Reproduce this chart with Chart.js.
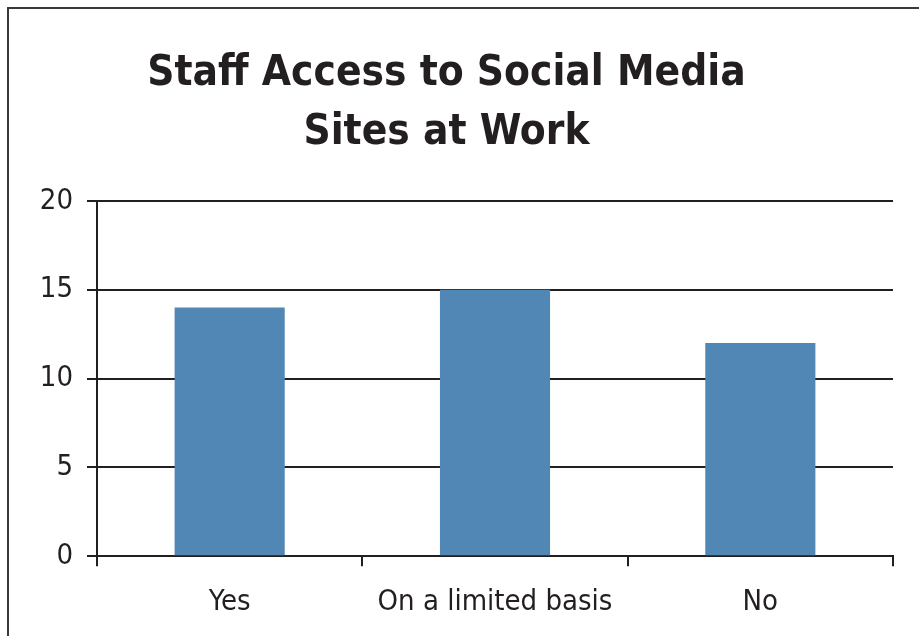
<!DOCTYPE html>
<html>
<head>
<meta charset="utf-8">
<title>Staff Access to Social Media Sites at Work</title>
<script src="https://cdn.jsdelivr.net/npm/chart.js@4.4.1/dist/chart.umd.min.js"></script>
<style>
  html, body {
    margin: 0;
    padding: 0;
    background: #ffffff;
  }
  #wrap {
    position: relative;
    width: 919px;
    height: 636px;
    overflow: hidden;
    background: #ffffff;
  }
  /* frame only shows on the top and left edges */
  #frame {
    position: absolute;
    left: 7px;
    top: 7px;
    width: 960px;
    height: 700px;
    border-left: 2px solid #3a3a3a;
    border-top: 2px solid #3a3a3a;
  }
  #myChart {
    position: absolute;
    left: 0;
    top: 0;
  }
</style>
</head>
<body>
<div id="wrap">
  <div id="frame"></div>
  <canvas id="myChart" width="919" height="636"></canvas>
</div>
<script>
const titleLines = ["Staff Access to Social Media", "Sites at Work"];
const categories = ["Yes", "On a limited basis", "No"];
const staffCounts = [14, 15, 12];
const yTicks = [0, 5, 10, 15, 20];

const inkColor = "#231f20";
const barColor = "#5087b5";
const fontFamily = "'DejaVu Sans Condensed', 'DejaVu Sans', sans-serif";

function buildConfig() {
  const data = {
    labels: categories,
    datasets: [
      {
        label: "Staff",
        data: staffCounts,
        backgroundColor: barColor,
        borderWidth: 0,
        categoryPercentage: 1,
        barPercentage: 0.415,
      },
    ],
  };

  return {
    type: "bar",
    data,
    options: {
      responsive: false,
      animation: false,
      devicePixelRatio: 1,
      layout: {
        padding: { left: 0, right: 26, top: 0, bottom: -3 },
      },
      plugins: {
        legend: { display: false },
        tooltip: { enabled: false },
        title: {
          display: true,
          text: titleLines,
          color: inkColor,
          font: { family: fontFamily, size: 42, weight: "bold", lineHeight: 1.405 },
          padding: { top: 45, bottom: 38 },
        },
      },
      scales: {
        x: {
          offset: true,
          grid: {
            offset: true,
            drawOnChartArea: false,
            drawTicks: true,
            tickLength: 10,
            color: inkColor,
            lineWidth: 2,
          },
          border: { display: true, color: inkColor, width: 2 },
          ticks: {
            color: inkColor,
            padding: 19,
            font: { family: fontFamily, size: 29 },
            maxRotation: 0,
          },
        },
        y: {
          min: yTicks[0],
          max: yTicks[yTicks.length - 1],
          afterFit: (scale) => {
            scale.width = 97;
          },
          afterBuildTicks: (scale) => {
            scale.ticks = yTicks.map((v) => ({ value: v }));
          },
          grid: {
            drawTicks: true,
            tickLength: 10,
            color: inkColor,
            lineWidth: 2,
          },
          border: { display: true, color: inkColor, width: 2 },
          ticks: {
            color: inkColor,
            padding: 14,
            font: { family: fontFamily, size: 29 },
          },
        },
      },
    },
  };
}

const myChart = document.getElementById("myChart");
const chart = new Chart(myChart, buildConfig());
</script>
</body>
</html>
